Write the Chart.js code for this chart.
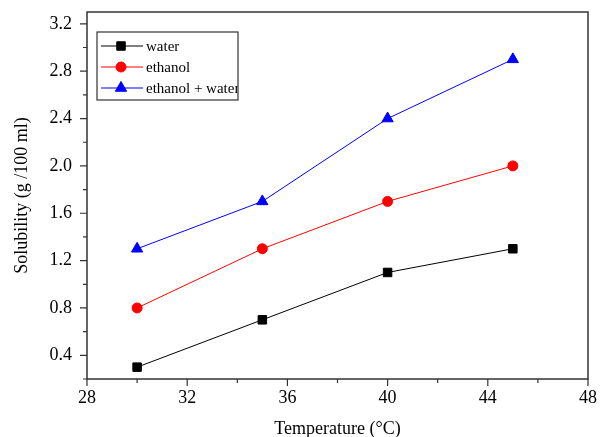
<!DOCTYPE html>
<html>
<head>
<meta charset="utf-8">
<script src="https://cdn.jsdelivr.net/npm/chart.js@4.4.1/dist/chart.umd.min.js"></script>
<style>
  html, body { margin: 0; padding: 0; background: #fff; }
  #wrap { width: 600px; height: 437px; }
</style>
</head>
<body>
<div id="wrap"><canvas id="solubilityChart"></canvas></div>
<script>
// temperatures (°C)
const temperatures = [30, 35, 40, 45];

// solubility values (g / 100 ml)
const waterValues = [0.3, 0.7, 1.1, 1.3];
const ethanolValues = [0.8, 1.3, 1.7, 2.0];
const mixValues = [1.3, 1.7, 2.4, 2.9];

const seriesNames = ['water', 'ethanol', 'ethanol + water'];

// axis ticks
const xMajorTicks = [28, 32, 36, 40, 44, 48];
const xMinorTicks = [30, 34, 38, 42, 46];
const yMajorTicks = [0.4, 0.8, 1.2, 1.6, 2.0, 2.4, 2.8, 3.2];
const yMinorTicks = [0.2, 0.6, 1.0, 1.4, 1.8, 2.2, 2.6, 3.0];

const serif = "'Liberation Serif', 'Times New Roman', serif";

function toPoints(values) {
    return temperatures.map((t, i) => ({ x: t, y: values[i] }));
}

// frame, outward tick marks and the boxed legend
const framePlugin = {
    id: 'frame',
    afterDraw(chart) {
        const { ctx, chartArea: a, scales } = chart;
        const x = scales.x, y = scales.y;
        ctx.save();
        ctx.strokeStyle = '#333';
        ctx.lineWidth = 1.5;
        ctx.strokeRect(a.left, a.top, a.right - a.left, a.bottom - a.top);

        ctx.lineWidth = 1.2;
        ctx.beginPath();
        xMajorTicks.forEach(v => { const p = x.getPixelForValue(v); ctx.moveTo(p, a.bottom); ctx.lineTo(p, a.bottom + 7); });
        xMinorTicks.forEach(v => { const p = x.getPixelForValue(v); ctx.moveTo(p, a.bottom); ctx.lineTo(p, a.bottom + 4); });
        yMajorTicks.forEach(v => { const p = y.getPixelForValue(v); ctx.moveTo(a.left, p); ctx.lineTo(a.left - 7, p); });
        yMinorTicks.forEach(v => { const p = y.getPixelForValue(v); ctx.moveTo(a.left, p); ctx.lineTo(a.left - 4, p); });
        ctx.stroke();

        // legend box (text clipped at the box edge like the original)
        const bx = a.left + 10, by = a.top + 20, bw = 141, bh = 68;
        ctx.fillStyle = '#fff';
        ctx.fillRect(bx, by, bw, bh);

        ctx.save();
        ctx.beginPath();
        ctx.rect(bx, by, bw, bh);
        ctx.clip();
        ctx.font = '15px ' + serif;
        ctx.textBaseline = 'middle';
        chart.data.datasets.forEach((ds, i) => {
            const ry = by + 14 + i * 21;
            ctx.strokeStyle = ds.borderColor;
            ctx.lineWidth = 1;
            ctx.beginPath();
            ctx.moveTo(bx + 4, ry);
            ctx.lineTo(bx + 46, ry);
            ctx.stroke();
            ctx.fillStyle = ds.pointBackgroundColor;
            ctx.strokeStyle = ds.pointBackgroundColor;
            Chart.helpers.drawPoint(ctx, { pointStyle: ds.pointStyle, radius: ds.pointRadius, borderWidth: 1, rotation: 0 }, bx + 24, ry);
            ctx.fillStyle = '#000';
            ctx.fillText(seriesNames[i], bx + 49, ry + 1);
        });
        ctx.restore();

        ctx.strokeStyle = '#333';
        ctx.lineWidth = 1.2;
        ctx.strokeRect(bx, by, bw, bh);
        ctx.restore();
    }
};

const ctx = document.getElementById('solubilityChart').getContext('2d');

new Chart(ctx, {
    type: 'line',
    data: {
        datasets: [
            {
                label: seriesNames[0],
                data: toPoints(waterValues),
                borderColor: '#000',
                pointBackgroundColor: '#000',
                pointBorderColor: '#000',
                pointStyle: 'rect',
                pointRadius: 6
            },
            {
                label: seriesNames[1],
                data: toPoints(ethanolValues),
                borderColor: '#ff0000',
                pointBackgroundColor: '#ff0000',
                pointBorderColor: '#ff0000',
                pointStyle: 'circle',
                pointRadius: 5
            },
            {
                label: seriesNames[2],
                data: toPoints(mixValues),
                borderColor: '#0000ff',
                pointBackgroundColor: '#0000ff',
                pointBorderColor: '#0000ff',
                pointStyle: 'triangle',
                pointRadius: 6.5
            }
        ]
    },
    options: {
        responsive: true,
        maintainAspectRatio: false,
        animation: false,
        layout: { padding: { top: 12, right: 12, left: 0, bottom: 0 } },
        elements: {
            line: { borderWidth: 1, tension: 0 },
            point: { borderWidth: 1, hoverRadius: 6 }
        },
        plugins: {
            legend: { display: false },
            tooltip: { enabled: false }
        },
        scales: {
            x: {
                type: 'linear',
                min: 28,
                max: 48,
                afterBuildTicks: s => { s.ticks = xMajorTicks.map(v => ({ value: v })); },
                afterFit: s => { s.height = 58; s.paddingLeft = 0; s.paddingRight = 0; },
                grid: { display: false, drawTicks: false },
                border: { display: false },
                ticks: {
                    color: '#000',
                    padding: 8,
                    font: { family: serif, size: 18 },
                    callback: v => String(v)
                },
                title: {
                    display: true,
                    text: 'Temperature (°C)',
                    color: '#000',
                    font: { family: serif, size: 18 },
                    padding: { top: 0, bottom: -3 }
                }
            },
            y: {
                type: 'linear',
                min: 0.2,
                max: 3.3,
                afterBuildTicks: s => { s.ticks = yMajorTicks.map(v => ({ value: v })); },
                afterFit: s => { s.width = 87; s.paddingTop = 0; s.paddingBottom = 0; },
                grid: { display: false, drawTicks: false },
                border: { display: false },
                ticks: {
                    color: '#000',
                    padding: 15,
                    font: { family: serif, size: 18 },
                    callback: v => v.toFixed(1)
                },
                title: {
                    display: true,
                    text: 'Solubility (g /100 ml)',
                    color: '#000',
                    font: { family: serif, size: 18 },
                    padding: { top: 11, bottom: 0 }
                }
            }
        }
    },
    plugins: [framePlugin]
});
</script>
</body>
</html>
